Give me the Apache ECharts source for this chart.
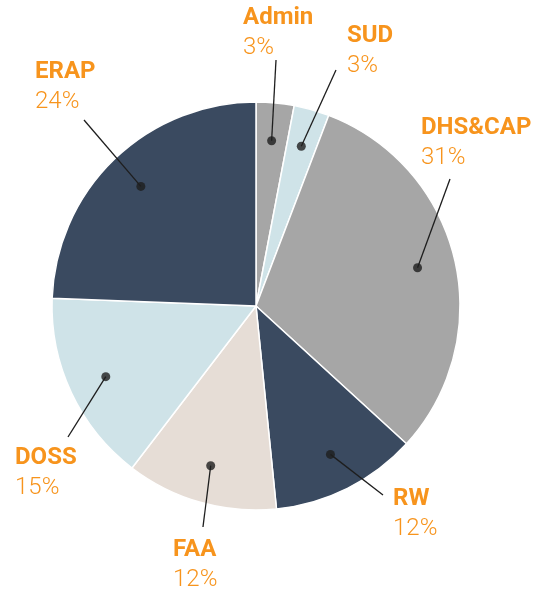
<!DOCTYPE html>
<html>
<head>
<meta charset="utf-8">
<script src="https://cdn.jsdelivr.net/npm/echarts@6/dist/echarts.min.js"></script>
<style>
  html, body { margin: 0; padding: 0; background: #fff; }
  #chart { width: 539px; height: 592px; }
</style>
</head>
<body>
<div id="chart"></div>
<script>
// slices, clockwise from 12 o'clock
const names = ['Admin', 'SUD', 'DHS&CAP', 'RW', 'FAA', 'DOSS', 'ERAP']
const shares = [3, 2.8, 31, 11.6, 12, 15.2, 24.4]
const colors = ['#a6a6a6', '#cfe3e8', '#a6a6a6', '#3a4a60', '#e6ddd6', '#cfe3e8', '#3a4a60']

// label placement: text top-left, then where the leader line ends (relative to text)
const labelPlacement = [
  [243, 3, 33, 57],
  [347, 21, -11, 49],
  [421, 113, 29, 66],
  [393, 484, -10, 11],
  [173, 535, 30, -8],
  [15, 443, 53, -6],
  [35, 57, 49, 63]
]

const CENTER = [256, 306]
const RADIUS = 204
const DOT_RADIUS = 166

const total = shares.reduce((a, b) => a + b, 0)
let acc = 0
const dotData = shares.map(v => {
  const mid = acc + v / 2
  acc += v
  return [1, mid]
})

const chart = echarts.init(document.getElementById('chart'))

chart.setOption({
  animation: false,
  polar: { center: CENTER, radius: DOT_RADIUS },
  angleAxis: { type: 'value', min: 0, max: total, startAngle: 90, show: false },
  radiusAxis: { type: 'value', min: 0, max: 1, show: false },
  series: [
    {
      name: 'slices',
      type: 'pie',
      center: CENTER,
      radius: RADIUS,
      startAngle: 90,
      silent: true,
      label: { show: false },
      labelLine: { show: false },
      itemStyle: { borderColor: '#ffffff', borderWidth: 1.5 },
      data: names.map((n, i) => ({ name: n, value: shares[i], itemStyle: { color: colors[i] } }))
    },
    {
      name: 'labels',
      type: 'pie',
      center: CENTER,
      radius: DOT_RADIUS,
      startAngle: 90,
      silent: true,
      z: 4,
      percentPrecision: 0,
      avoidLabelOverlap: false,
      itemStyle: { color: 'transparent', borderWidth: 0 },
      label: {
        show: true,
        position: 'outside',
        formatter: '{n|{b}}\n{p|{d}%}',
        rich: {
          n: { fontFamily: 'Roboto', fontSize: 24, fontWeight: 'bold', color: '#f7941d', lineHeight: 30 },
          p: { fontFamily: 'Roboto', fontSize: 24, fontWeight: 300, color: '#f7941d', lineHeight: 30 }
        }
      },
      labelLine: { show: true, length: 60, length2: 0, lineStyle: { color: '#1e1e1e', width: 1.3 } },
      labelLayout: (params) => {
        const p = labelPlacement[params.dataIndex]
        const start = params.labelLinePoints[0]
        const end = [p[0] + p[2], p[1] + p[3]]
        return {
          x: p[0],
          y: p[1],
          align: 'left',
          verticalAlign: 'top',
          labelLinePoints: [start, end, end]
        }
      },
      data: names.map((n, i) => ({ name: n, value: shares[i] }))
    },
    {
      name: 'dots',
      type: 'scatter',
      coordinateSystem: 'polar',
      silent: true,
      z: 5,
      symbolSize: 9,
      itemStyle: { color: '#1e1e1e' },
      data: dotData
    }
  ]
})
</script>
</body>
</html>
